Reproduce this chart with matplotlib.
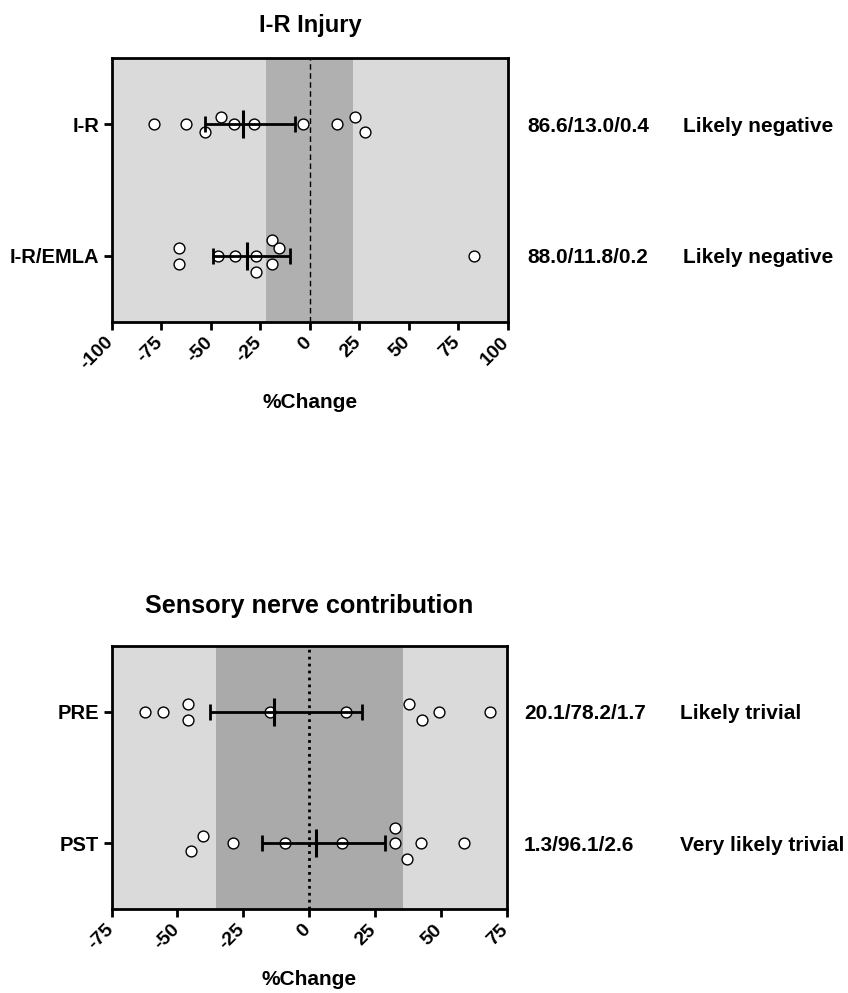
import matplotlib
matplotlib.use("Agg")
import matplotlib.pyplot as plt
import numpy as np

plt.rcParams['font.family'] = ['Liberation Sans', 'DejaVu Sans']
plt.rcParams['font.weight'] = 'bold'

# ---------------- data ----------------
top_title = "I-R Injury"
top_groups = ["I-R", "I-R/EMLA"]
top_points = [
    [-78.5, -62.3, -52.9, -45.0, -38.4, -28.1, -3.2, 13.6, 23.0, 28.1],
    [-66.0, -66.0, -46.5, -37.7, -27.3, -27.3, -19.2, -15.5, -19.2, 82.8],
]
top_jitter = [
    [0, 0, 0.06, -0.058, 0, 0, 0, 0, -0.058, 0.06],
    [-0.058, 0.06, 0, 0, 0, 0.119, -0.119, -0.058, 0.06, 0],
]
top_center = [-33.8, -31.8]
top_lo = [-52.7, -48.8]
top_hi = [-7.6, -9.8]
top_band = (-22.1, 21.7)
top_probs = ["86.6/13.0/0.4", "88.0/11.8/0.2"]
top_verdict = ["Likely negative", "Likely negative"]
top_xticks = [-100, -75, -50, -25, 0, 25, 50, 75, 100]

bot_title = "Sensory nerve contribution"
bot_groups = ["PRE", "PST"]
bot_points = [
    [-62.2, -55.6, -45.9, -45.9, -15.0, 13.9, 37.8, 42.8, 49.5, 68.9],
    [-40.4, -45.0, -28.8, -9.0, 12.6, 32.5, 32.5, 42.4, 37.2, 58.8],
]
bot_jitter = [
    [0, 0, -0.058, 0.06, 0, 0, -0.058, 0.06, 0, 0],
    [-0.06, 0.06, 0, 0, 0, -0.119, 0, 0, 0.119, 0],
]
bot_center = [-13.4, 2.8]
bot_lo = [-37.6, -17.9]
bot_hi = [20.2, 28.7]
bot_band = (-35.2, 35.5)
bot_probs = ["20.1/78.2/1.7", "1.3/96.1/2.6"]
bot_verdict = ["Likely trivial", "Very likely trivial"]
bot_xticks = [-75, -50, -25, 0, 25, 50, 75]

xlabel = "%Change"

fig = plt.figure(figsize=(8.48, 9.93), dpi=100)


def panel(rect, title, groups, points, jitter, center, lo, hi, band, probs,
          verdict, xticks, band_color, zero_ls, zero_lw, num_x, verd_x,
          title_size, title_pad, xlabel_pad):
    ax = fig.add_axes(rect)
    ax.set_facecolor('#dadada')
    ax.axvspan(band[0], band[1], color=band_color, zorder=0.5, lw=0)
    ax.axvline(0, color='black', ls=zero_ls, lw=zero_lw, zorder=1)
    for i, (pts, jit) in enumerate(zip(points, jitter)):
        y = np.full(len(pts), i + 1.0) + np.array(jit)
        ax.plot(pts, y, 'o', ms=7.8, mfc='white', mec='black', mew=1.0,
                zorder=3, clip_on=False)
    ypos = np.arange(1, len(groups) + 1)
    c = np.array(center)
    xerr = np.vstack([c - np.array(lo), np.array(hi) - c])
    ax.errorbar(c, ypos, xerr=xerr, fmt='none', ecolor='black', elinewidth=2,
                capsize=5.5, capthick=2, zorder=4)
    ax.plot(c, ypos, '|', ms=20, mew=2.2, color='black', zorder=5)
    ax.set_ylim(len(groups) + 0.5, 0.5)
    ax.set_xlim(xticks[0], xticks[-1])
    ax.set_yticks(ypos)
    ax.set_yticklabels(groups, fontsize=14.5, fontweight='bold')
    ax.set_xticks(xticks)
    ax.set_xticklabels([])
    for t in xticks:
        ax.annotate(str(t), xy=(t, 0), xycoords=('data', 'axes fraction'),
                    xytext=(5, -12), textcoords='offset pixels',
                    ha='right', va='top', rotation=45, fontsize=14,
                    fontweight='bold', annotation_clip=False)
    for s in ax.spines.values():
        s.set_linewidth(2)
    ax.tick_params(axis='both', width=2, length=6, direction='out', pad=3)
    ax.set_xlabel(xlabel, fontsize=15, fontweight='bold', labelpad=xlabel_pad)
    ax.set_title(title, fontsize=title_size, fontweight='bold', pad=title_pad)
    for i in range(len(groups)):
        ax.annotate(probs[i], xy=(num_x, i + 1), xycoords=('figure pixels', 'data'),
                    ha='left', va='center_baseline', fontsize=15, fontweight='bold',
                    annotation_clip=False)
        ax.annotate(verdict[i], xy=(verd_x, i + 1), xycoords=('figure pixels', 'data'),
                    ha='left', va='center_baseline', fontsize=15, fontweight='bold',
                    annotation_clip=False)
    return ax


panel([0.1317, 0.676, 0.4673, 0.2653], top_title, top_groups, top_points,
      top_jitter, top_center, top_lo, top_hi, top_band, top_probs, top_verdict,
      top_xticks, '#b0b0b0', (0, (4, 2.5)), 1.0, 527, 683, 17, 19, 42)
panel([0.1317, 0.0843, 0.4656, 0.2652], bot_title, bot_groups, bot_points,
      bot_jitter, bot_center, bot_lo, bot_hi, bot_band, bot_probs, bot_verdict,
      bot_xticks, '#aaaaaa', (0, (1, 1.5)), 2.0, 524, 680, 18.2, 24, 35)

fig.savefig("out.png", dpi=100)
